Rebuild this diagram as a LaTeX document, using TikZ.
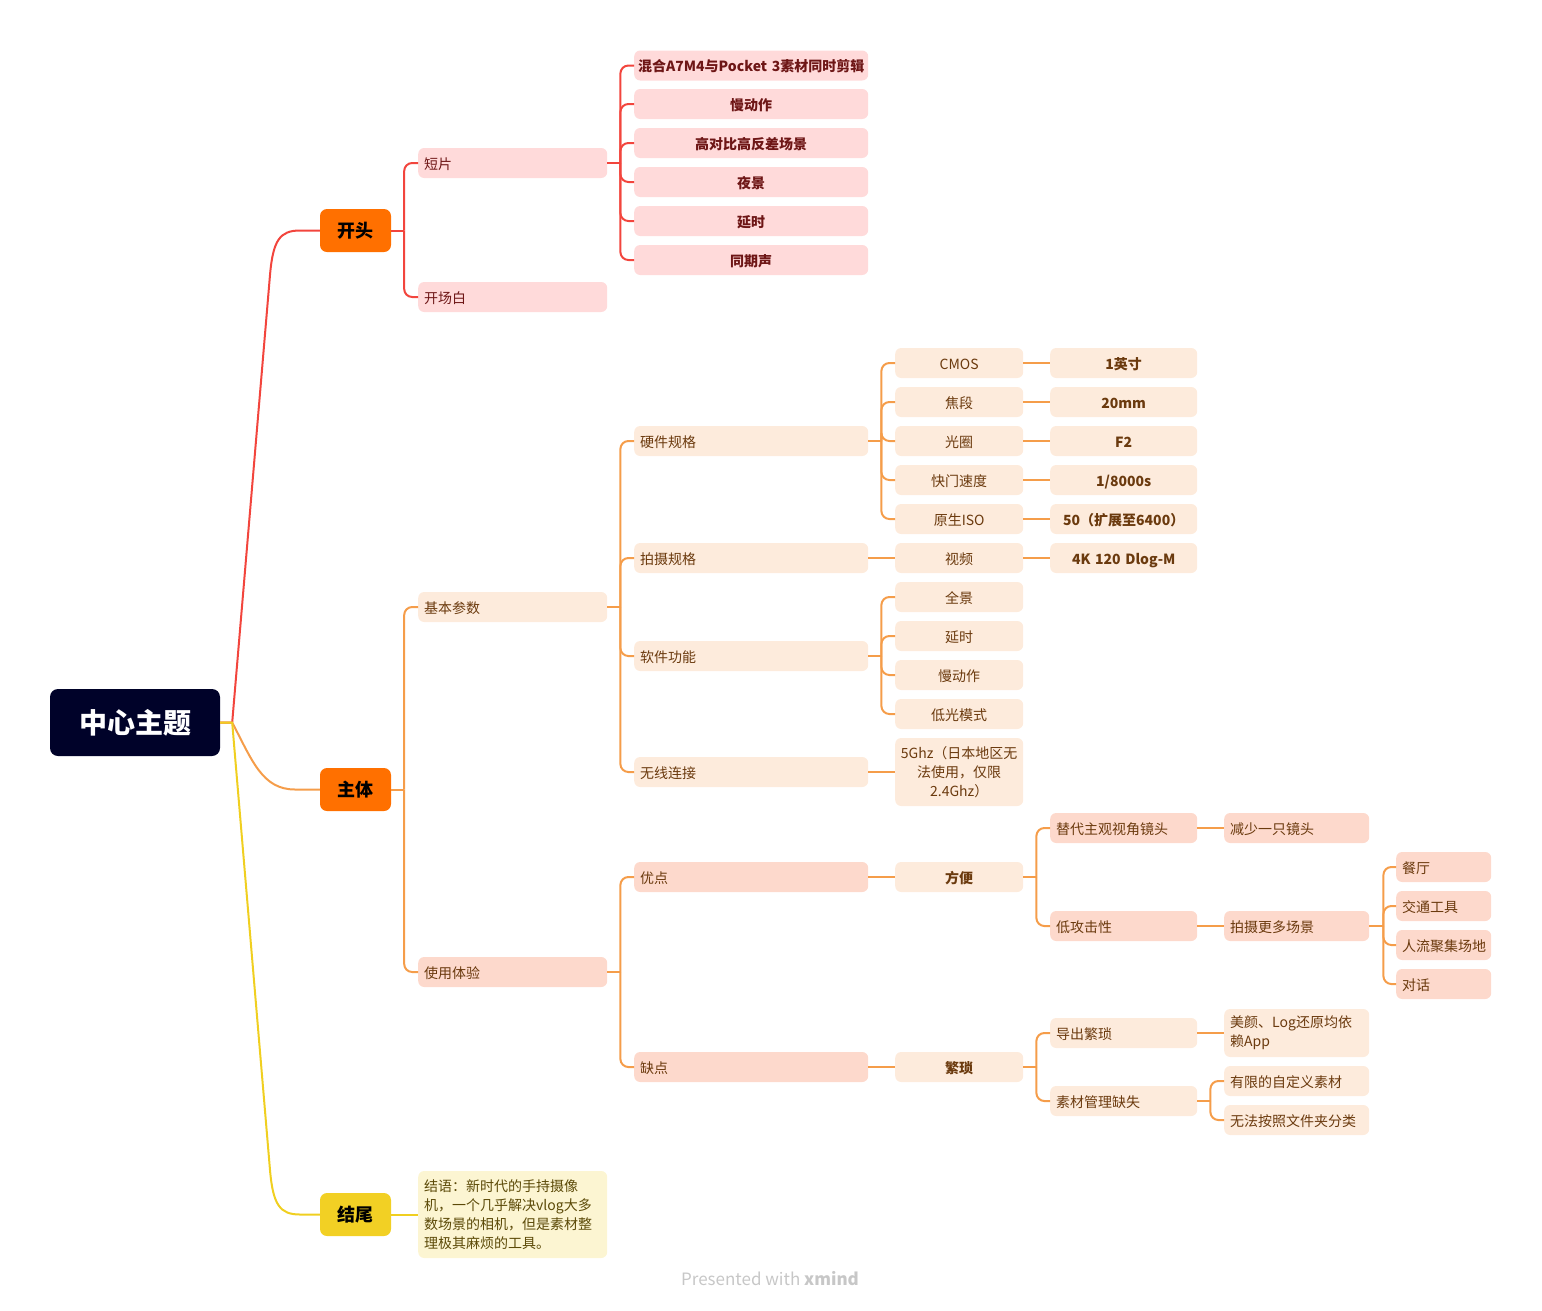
\documentclass[tikz,border=0pt]{standalone}
\usepackage{fontspec}
\setmainfont{Noto Sans CJK SC}
\definecolor{navy}{HTML}{000229}
\definecolor{orangeM}{HTML}{FF7000}
\definecolor{yellowM}{HTML}{F2D024}
\definecolor{lineR}{HTML}{F2453D}
\definecolor{lineO}{HTML}{F59D4A}
\definecolor{lineY}{HTML}{F0CF20}
\definecolor{fillPink}{HTML}{FFDADA}
\definecolor{fillPeach}{HTML}{FDEBDC}
\definecolor{fillRose}{HTML}{FDD9CC}
\definecolor{fillCream}{HTML}{FCF5D2}
\definecolor{txtR}{HTML}{6E1616}
\definecolor{txtO}{HTML}{6B3A0E}
\definecolor{txtY}{HTML}{5C4A08}
\begin{document}
\begin{tikzpicture}[x=1pt,y=1pt,
  bx/.style={rounded corners=6pt, inner xsep=6pt, inner ysep=0pt, anchor=west,
             font=\fontsize{14}{19}\selectfont},
  one/.style={bx, minimum height=30pt, text height=13pt, text depth=1pt},
  bd/.style={font=\fontsize{14}{19}\selectfont\bfseries},
  w2/.style={text width=177pt},
  w3/.style={text width=222pt},
  w4/.style={text width=116pt},
  w5/.style={text width=135pt},
  w6/.style={text width=133pt},
  w7/.style={text width=83pt},
  lft/.style={align=left},
  ctr/.style={align=center},
  pk/.style={fill=fillPink, text=txtR},
  pc/.style={fill=fillPeach, text=txtO},
  rs/.style={fill=fillRose, text=txtO},
  cr/.style={fill=fillCream, text=txtY},
  mainbr/.style={rounded corners=7pt, minimum width=71pt, minimum height=43pt,
                 inner sep=0pt, font=\fontsize{18}{20}\selectfont\bfseries, text=black},
  cR/.style={draw=lineR, line width=2pt},
  cO/.style={draw=lineO, line width=2pt},
  cY/.style={draw=lineY, line width=2pt},
  tr/.style={rounded corners=8pt}
]
\useasboundingbox (0,0) rectangle (1542,-1310);

% ---------- central topic and main branches ----------
\node[fill=navy, rounded corners=8pt, minimum width=170pt, minimum height=67pt,
      inner sep=0pt, text=white, font=\fontsize{28}{30}\selectfont\bfseries]
      (root) at (135,-722.5) {中心主题};
\node[mainbr, fill=orangeM] (kaitou) at (355.5,-230.5) {开头};
\node[mainbr, fill=orangeM] (zhuti)  at (355.5,-789.5) {主体};
\node[mainbr, fill=yellowM] (jiewei) at (355.5,-1214.5) {结尾};

% ---------- 开头 ----------
\node[one,w2,lft,pk] (duanpian) at (418,-163) {短片};
\node[one,w2,lft,pk] (kcb) at (418,-297) {开场白};
\node[one,pk,bd,ctr,text width=230pt,inner xsep=2pt] (s1) at (634,-65.5) {混合A7M4与Pocket 3素材同时剪辑};
\node[one,w3,ctr,pk,bd] (s2) at (634,-104) {慢动作};
\node[one,w3,ctr,pk,bd] (s3) at (634,-143) {高对比高反差场景};
\node[one,w3,ctr,pk,bd] (s4) at (634,-182) {夜景};
\node[one,w3,ctr,pk,bd] (s5) at (634,-221) {延时};
\node[one,w3,ctr,pk,bd] (s6) at (634,-260) {同期声};

% ---------- 主体: 基本参数 ----------
\node[one,w2,lft,pc] (jbcs) at (418,-607) {基本参数};
\node[one,w3,lft,pc] (yjgg) at (634,-441) {硬件规格};
\node[one,w3,lft,pc] (psgg) at (634,-558) {拍摄规格};
\node[one,w3,lft,pc] (rjgn) at (634,-656) {软件功能};
\node[one,w3,lft,pc] (wxlj) at (634,-772) {无线连接};

\node[one,w4,ctr,pc] (cmos)  at (895,-363) {CMOS};
\node[one,w4,ctr,pc] (jd)    at (895,-402) {焦段};
\node[one,w4,ctr,pc] (gq)    at (895,-441) {光圈};
\node[one,w4,ctr,pc] (kmsd)  at (895,-480) {快门速度};
\node[one,w4,ctr,pc] (ysiso) at (895,-519) {原生ISO};
\node[one,w4,ctr,pc] (sp)    at (895,-558) {视频};
\node[one,w4,ctr,pc] (qj)    at (895,-597) {全景};
\node[one,w4,ctr,pc] (ys)    at (895,-636) {延时};
\node[one,w4,ctr,pc] (mdz)   at (895,-675) {慢动作};
\node[one,w4,ctr,pc] (dgms)  at (895,-714) {低光模式};
\node[bx,ctr,pc,text width=122pt,inner xsep=3pt,minimum height=68pt] (wifi) at (895,-772)
      {5Ghz（日本地区无\\法使用，仅限\\2.4Ghz）};

\node[one,w5,ctr,pc,bd] (v1) at (1050,-363) {1英寸};
\node[one,w5,ctr,pc,bd] (v2) at (1050,-402) {20mm};
\node[one,w5,ctr,pc,bd] (v3) at (1050,-441) {F2};
\node[one,w5,ctr,pc,bd] (v4) at (1050,-480) {1/8000s};
\node[one,w5,ctr,pc,bd] (v5) at (1050,-519) {50（扩展至6400）};
\node[one,w5,ctr,pc,bd] (v6) at (1050,-558) {4K 120 Dlog-M};

% ---------- 主体: 使用体验 ----------
\node[one,w2,lft,rs] (syty) at (418,-972) {使用体验};
\node[one,w3,lft,rs] (yd) at (634,-877) {优点};
\node[one,w3,lft,rs] (qd) at (634,-1067) {缺点};
\node[one,w4,ctr,pc,bd] (fb) at (895,-877) {方便};
\node[one,w4,ctr,pc,bd] (fs) at (895,-1067) {繁琐};

\node[one,w5,lft,rs] (tdzg) at (1050,-828) {替代主观视角镜头};
\node[one,w5,lft,rs] (dgjx) at (1050,-926) {低攻击性};
\node[one,w5,lft,pc] (dcfs) at (1050,-1033) {导出繁琐};
\node[one,w5,lft,pc] (scgl) at (1050,-1101) {素材管理缺失};

\node[one,w6,lft,rs] (jsyz) at (1224,-828) {减少一只镜头};
\node[one,w6,lft,rs] (psgd) at (1224,-926) {拍摄更多场景};
\node[bx,w6,lft,pc,minimum height=48pt] (mylg) at (1224,-1033) {美颜、Log还原均依\\赖App};
\node[one,w6,lft,pc] (yxzd) at (1224,-1081) {有限的自定义素材};
\node[one,w6,lft,pc] (wfaz) at (1224,-1120) {无法按照文件夹分类};

\node[one,w7,lft,rs] (ct)   at (1396,-867) {餐厅};
\node[one,w7,lft,rs] (jtgj) at (1396,-906) {交通工具};
\node[one,w7,lft,rs] (rljj) at (1396,-945) {人流聚集场地};
\node[one,w7,lft,rs] (dh)   at (1396,-984) {对话};

% ---------- 结尾 ----------
\node[bx,w2,lft,cr,minimum height=87pt] (jieyu) at (418,-1214.5)
      {结语：新时代的手持摄像\\机，一个几乎解决vlog大多\\数场景的相机，但是素材整\\理极其麻烦的工具。};

% ---------- connectors from the central topic ----------
\draw[cR] (root.east) -- ++(12,0) -- (270,-275)
      .. controls (273,-240) and (280,-230.5) .. (300,-230.5) -- (kaitou.west);
\draw[cO] (root.east) -- ++(12,0)
      .. controls (252,-760) and (262,-789.5) .. (295,-789.5) -- (zhuti.west);
\draw[cY] (root.east) -- ++(12,0) -- (270,-1170)
      .. controls (273,-1205) and (280,-1214.5) .. (300,-1214.5) -- (jiewei.west);

% ---------- 开头 tree ----------
\draw[cR] (kaitou.east) -- ++(13,0) coordinate (t1);
\foreach \c in {duanpian,kcb} \draw[cR,tr] (t1) |- (\c.west);
\draw[cR] (duanpian.east) -- ++(13,0) coordinate (t2);
\foreach \c in {s1,s2,s3,s4,s5,s6} \draw[cR,tr] (t2) |- (\c.west);

% ---------- 主体 tree ----------
\draw[cO] (zhuti.east) -- ++(13,0) coordinate (t3);
\foreach \c in {jbcs,syty} \draw[cO,tr] (t3) |- (\c.west);
\draw[cO] (jbcs.east) -- ++(13,0) coordinate (t4);
\foreach \c in {yjgg,psgg,rjgn,wxlj} \draw[cO,tr] (t4) |- (\c.west);
\draw[cO] (yjgg.east) -- ++(13,0) coordinate (t5);
\foreach \c in {cmos,jd,gq,kmsd,ysiso} \draw[cO,tr] (t5) |- (\c.west);
\draw[cO] (psgg.east) -- (sp.west);
\draw[cO] (rjgn.east) -- ++(13,0) coordinate (t6);
\foreach \c in {qj,ys,mdz,dgms} \draw[cO,tr] (t6) |- (\c.west);
\draw[cO] (wxlj.east) -- (wifi.west);
\draw[cO] (cmos.east) -- (v1.west);
\draw[cO] (jd.east) -- (v2.west);
\draw[cO] (gq.east) -- (v3.west);
\draw[cO] (kmsd.east) -- (v4.west);
\draw[cO] (ysiso.east) -- (v5.west);
\draw[cO] (sp.east) -- (v6.west);

\draw[cO] (syty.east) -- ++(13,0) coordinate (t7);
\foreach \c in {yd,qd} \draw[cO,tr] (t7) |- (\c.west);
\draw[cO] (yd.east) -- (fb.west);
\draw[cO] (qd.east) -- (fs.west);
\draw[cO] (fb.east) -- ++(13,0) coordinate (t8);
\foreach \c in {tdzg,dgjx} \draw[cO,tr] (t8) |- (\c.west);
\draw[cO] (tdzg.east) -- (jsyz.west);
\draw[cO] (dgjx.east) -- (psgd.west);
\draw[cO] (psgd.east) -- ++(14,0) coordinate (t9);
\foreach \c in {ct,jtgj,rljj,dh} \draw[cO,tr] (t9) |- (\c.west);
\draw[cO] (fs.east) -- ++(13,0) coordinate (t10);
\foreach \c in {dcfs,scgl} \draw[cO,tr] (t10) |- (\c.west);
\draw[cO] (dcfs.east) -- (mylg.west);
\draw[cO] (scgl.east) -- ++(13,0) coordinate (t11);
\foreach \c in {yxzd,wfaz} \draw[cO,tr] (t11) |- (\c.west);

% ---------- 结尾 ----------
\draw[cY] (jiewei.east) -- (jieyu.west);

% ---------- footer ----------
\node[text=black!22, font=\fontsize{17}{20}\selectfont] (wm) at (770,-1279)
      {Presented with \textbf{xmind}};
\end{tikzpicture}
\end{document}
